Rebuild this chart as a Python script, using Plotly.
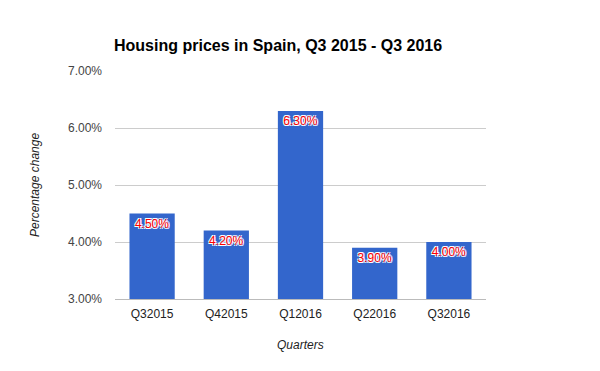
import plotly.graph_objects as go

quarters = ["Q32015", "Q42015", "Q12016", "Q22016", "Q32016"]
changes = [4.50, 4.20, 6.30, 3.90, 4.00]
labels = ["4.50%", "4.20%", "6.30%", "3.90%", "4.00%"]
y_ticks = [3, 4, 5, 6, 7]
y_tick_labels = ["3.00%", "4.00%", "5.00%", "6.00%", "7.00%"]

halo = "-1px -1px 0 #fff, 1px -1px 0 #fff, -1px 1px 0 #fff, 1px 1px 0 #fff"

fig = go.Figure(go.Bar(
    x=quarters, y=changes, text=labels,
    marker=dict(color="#3366cc", line=dict(width=0)),
    textposition="inside", insidetextanchor="end",
    textangle=0,
    textfont=dict(family="Arial", size=12, color="#ff0000", shadow=halo),
    cliponaxis=True,
))

L, R, T, B = 115, 114, 71, 72
W, H = 600, 371

fig.update_layout(
    width=W, height=H,
    margin=dict(l=L, r=R, t=T, b=B),
    paper_bgcolor="white", plot_bgcolor="white",
    bargap=0.39,
    showlegend=False,
    font=dict(family="Arial", size=12, color="#444"),
    title=dict(text="Housing prices in Spain, Q3 2015 - Q3 2016",
               x=114/W, xref="container", xanchor="left",
               y=1 - 45/H, yref="container", yanchor="middle",
               font=dict(family="Arial", size=16, color="#000", weight="bold")),
    xaxis=dict(showgrid=False, showline=True, linecolor="#bbb", linewidth=1,
               ticks="", tickfont=dict(family="Arial", size=12, color="#222"),
               ticklabelstandoff=4),
    yaxis=dict(range=[3, 7], tickvals=y_ticks, ticktext=y_tick_labels,
               showgrid=True, gridcolor="#ccc", gridwidth=1, zeroline=False,
               ticks="", tickfont=dict(family="Arial", size=12, color="#444"),
               ticklabelstandoff=12),
    annotations=[
        dict(text="Percentage change", xref="paper", yref="paper",
             x=(35 - L) / (W - L - R), y=(H - B - 185) / (H - T - B),
             showarrow=False, textangle=-90, xanchor="center", yanchor="middle",
             font=dict(family="Arial", size=12, color="#222", style="italic")),
        dict(text="Quarters", xref="paper", yref="paper",
             x=0.5, y=(H - B - 345) / (H - T - B),
             showarrow=False, xanchor="center", yanchor="middle",
             font=dict(family="Arial", size=12, color="#222", style="italic")),
    ],
)

fig.write_html("out.html", config={"displayModeBar": False},
               post_script="document.body.style.margin='0';document.body.style.overflow='hidden';")
